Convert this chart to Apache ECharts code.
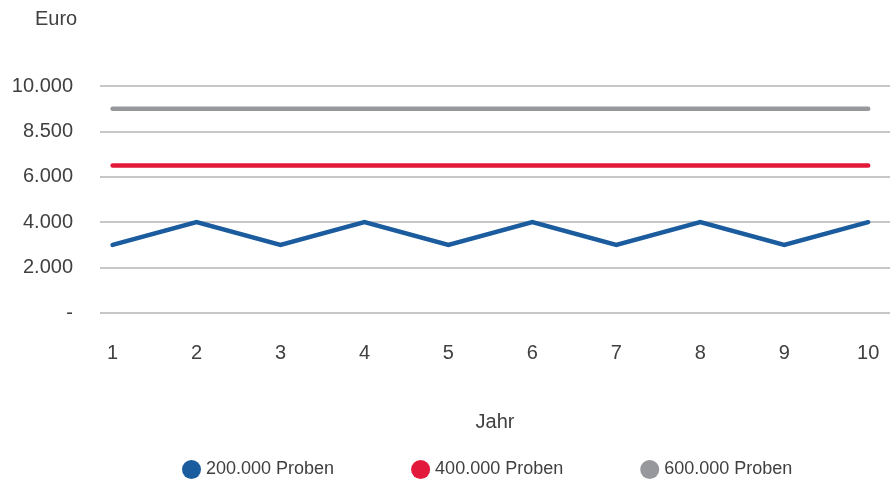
<!DOCTYPE html>
<html>
<head>
<meta charset="utf-8">
<script src="https://cdn.jsdelivr.net/npm/echarts@6/dist/echarts.min.js"></script>
<style>html,body{margin:0;padding:0;background:#fff;}#c{width:890px;height:479px;}</style>
</head>
<body>
<div id="c"></div>
<script>
var years = [1, 2, 3, 4, 5, 6, 7, 8, 9, 10];
var seriesNames = ['200.000 Proben', '400.000 Proben', '600.000 Proben'];
var s200 = [3000, 4000, 3000, 4000, 3000, 4000, 3000, 4000, 3000, 4000];
var s400 = [6500, 6500, 6500, 6500, 6500, 6500, 6500, 6500, 6500, 6500];
var s600 = [9000, 9000, 9000, 9000, 9000, 9000, 9000, 9000, 9000, 9000];
var yTickValues = [0, 2000, 4000, 6000, 8000, 10000];
var yTickLabels = ['-', '2.000', '4.000', '6.000', '8.500', '10.000'];
var colors = ['#1b5c9e', '#e2193b', '#97989c'];

function pairs(vals) { return years.map(function (y, i) { return [y, vals[i]]; }); }
var font = 'Liberation Sans, Arial, sans-serif';
var chart = echarts.init(document.getElementById('c'));
chart.setOption({
  animation: false,
  color: colors,
  title: { text: 'Euro', left: 30, top: 4, textStyle: { fontFamily: font, fontSize: 20, fontWeight: 'normal', color: '#404040' } },
  grid: { left: 100, right: 0, top: 86, bottom: 166 },
  legend: {
    left: 177, top: 455, icon: 'circle', itemWidth: 19, itemHeight: 19, itemGap: 77,
    textStyle: { fontFamily: font, fontSize: 18, color: '#404040' },
    data: seriesNames
  },
  xAxis: {
    type: 'value', min: 0.85, max: 10.26,
    name: 'Jahr', nameLocation: 'middle', nameGap: 99,
    nameTextStyle: { fontFamily: font, fontSize: 20, color: '#404040' },
    axisLine: { show: false }, axisTick: { show: false }, splitLine: { show: false },
    axisLabel: { customValues: years, margin: 30, fontFamily: font, fontSize: 20, color: '#404040' }
  },
  yAxis: {
    type: 'value', min: 0, max: 10000, interval: 2000,
    axisLine: { show: false }, axisTick: { show: false },
    splitLine: { lineStyle: { color: '#b5b5b5', width: 1.5 } },
    axisLabel: {
      margin: 27, fontFamily: font, fontSize: 20, color: '#404040',
      formatter: function (v) { var i = yTickValues.indexOf(v); return i >= 0 ? yTickLabels[i] : ''; }
    }
  },
  series: [
    { name: seriesNames[0], type: 'line', data: pairs(s200), showSymbol: false, lineStyle: { width: 4.5, cap: 'round', join: 'miter' } },
    { name: seriesNames[1], type: 'line', data: pairs(s400), showSymbol: false, lineStyle: { width: 4.5, cap: 'round' } },
    { name: seriesNames[2], type: 'line', data: pairs(s600), showSymbol: false, lineStyle: { width: 4.5, cap: 'round' } }
  ]
});
</script>
</body>
</html>
